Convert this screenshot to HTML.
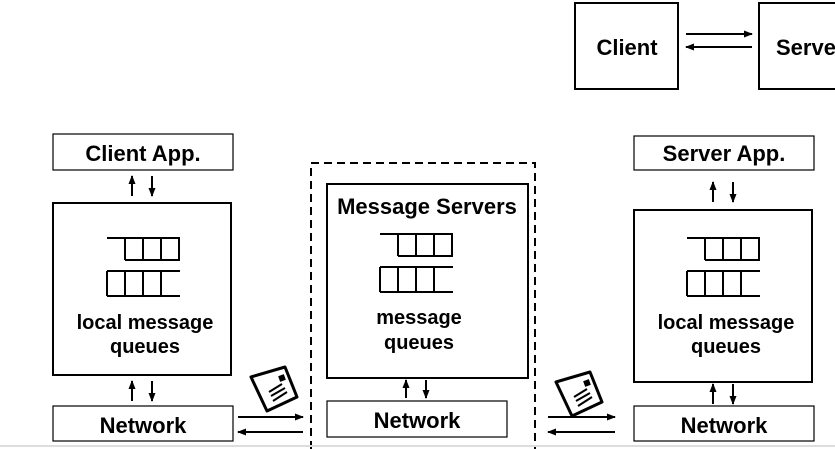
<!DOCTYPE html>
<html><head><style>body{margin:0;background:#fff}svg{display:block}text{font-family:"Liberation Sans",sans-serif;font-weight:bold;fill:#000}</style></head>
<body>
<svg width="835" height="449" viewBox="0 0 835 449">
<defs>
<marker id="a" markerWidth="9" markerHeight="7" refX="8" refY="3.5" orient="auto" markerUnits="userSpaceOnUse"><path d="M0,0 L9,3.5 L0,7z" fill="#000"/></marker>
<g id="env"><path d="M0,10 L34,0 L46,30 L16,44 Z" fill="#fff" stroke="#000" stroke-width="3" stroke-linejoin="round"/><rect x="28" y="8" width="6" height="6" transform="rotate(-20 31 11)" fill="#000"/><path d="M22,34 L36,25 M20,29 L34,21 M18,25 L31,17" stroke="#000" stroke-width="2"/></g>
<g id="q" fill="none" stroke="#000" stroke-width="2">
<path d="M0,0 H73 M18,22 H73 M18,0 V22 M36,0 V22 M54,0 V22 M72,0 V22"/>
<path d="M0,33 H73 M0,58 H73 M0,33 V58 M18,33 V58 M36,33 V58 M54,33 V58"/>
</g>
</defs>
<g fill="none" stroke="#000" stroke-width="2">
<rect x="575" y="3" width="103" height="86"/>
<rect x="759" y="3" width="90" height="86"/>
<line x1="686" y1="34" x2="752" y2="34" marker-end="url(#a)"/>
<line x1="752" y1="47" x2="686" y2="47" marker-end="url(#a)"/>
<rect x="53" y="134" width="180" height="36" stroke-width="1.2"/>
<rect x="53" y="203" width="178" height="172"/>
<rect x="53" y="406" width="180" height="35" stroke-width="1.2"/>
<line x1="132" y1="196" x2="132" y2="176" marker-end="url(#a)"/>
<line x1="152" y1="176" x2="152" y2="196" marker-end="url(#a)"/>
<line x1="132" y1="401" x2="132" y2="381" marker-end="url(#a)"/>
<line x1="152" y1="381" x2="152" y2="401" marker-end="url(#a)"/>
<line x1="238" y1="417" x2="303" y2="417" marker-end="url(#a)"/>
<line x1="303" y1="432" x2="238" y2="432" marker-end="url(#a)"/>
<path d="M311,449 V163 H535 V449" stroke-dasharray="8,5"/>
<rect x="327" y="184" width="201" height="194"/>
<rect x="327" y="401" width="180" height="36" stroke-width="1.2"/>
<line x1="406" y1="398" x2="406" y2="380" marker-end="url(#a)"/>
<line x1="426" y1="380" x2="426" y2="398" marker-end="url(#a)"/>
<line x1="548" y1="417" x2="615" y2="417" marker-end="url(#a)"/>
<line x1="615" y1="432" x2="548" y2="432" marker-end="url(#a)"/>
<rect x="634" y="136" width="180" height="34" stroke-width="1.2"/>
<rect x="634" y="210" width="178" height="172"/>
<rect x="634" y="406" width="180" height="35" stroke-width="1.2"/>
<line x1="713" y1="202" x2="713" y2="182" marker-end="url(#a)"/>
<line x1="733" y1="182" x2="733" y2="202" marker-end="url(#a)"/>
<line x1="713" y1="404" x2="713" y2="384" marker-end="url(#a)"/>
<line x1="733" y1="384" x2="733" y2="404" marker-end="url(#a)"/>
</g>
<line x1="0" y1="446" x2="835" y2="446" stroke="#ddd" stroke-width="2"/>
<use href="#q" x="107" y="238"/>
<use href="#q" x="380" y="234"/>
<use href="#q" x="687" y="238"/>
<use href="#env" x="251" y="367"/>
<use href="#env" x="556" y="372"/>
<g font-size="22" text-anchor="middle">
<text x="627" y="55">Client</text>
<text x="776" y="55" text-anchor="start">Server</text>
<text x="143" y="161">Client App.</text>
<text x="143" y="433">Network</text>
<text x="427" y="214">Message Servers</text>
<text x="417" y="428">Network</text>
<text x="724" y="161">Server App.</text>
<text x="724" y="433">Network</text>
</g>
<g font-size="20" text-anchor="middle">
<text x="145" y="329">local message</text>
<text x="145" y="353">queues</text>
<text x="419" y="324">message</text>
<text x="419" y="349">queues</text>
<text x="726" y="329">local message</text>
<text x="726" y="353">queues</text>
</g>
</svg>
</body></html>
